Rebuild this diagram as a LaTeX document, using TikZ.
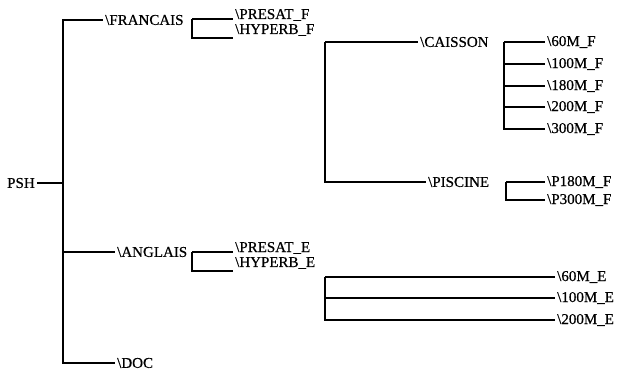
\documentclass[tikz,border=0pt]{standalone}
\usepackage{fontspec}
\setmainfont[FakeBold=0.6]{Liberation Serif}
\usepackage{tikz}
\usetikzlibrary{positioning}

\begin{document}
\begin{tikzpicture}[
    x=1pt, y=-1pt,
    font=\fontsize{15}{15}\selectfont,
    dir/.style={anchor=west, inner sep=2pt},
    branch/.style={line width=2pt, line join=miter}
]
\useasboundingbox (0,0) rectangle (622,372);

% Root
\node[dir] (psh) at (5,183) {PSH};
\coordinate (trunk) at (63,183);

% First level
\node[dir] (francais) at (103,20) {\textbackslash FRANCAIS};
\node[dir] (anglais) at (115,252) {\textbackslash ANGLAIS};
\node[dir] (doc) at (115,363) {\textbackslash DOC};

% Second level
\node[dir] (presatF) at (233,15) {\textbackslash PRESAT\_F};
\node[dir] (hyperbF) at (233,30) {\textbackslash HYPERB\_F};
\node[dir] (presatE) at (233,248) {\textbackslash PRESAT\_E};
\node[dir] (hyperbE) at (233,263) {\textbackslash HYPERB\_E};
\coordinate (fr) at (192,19);
\coordinate (an) at (192,252);

% Third level
\coordinate (hf) at (325,42);
\node[dir] (caisson) at (418,42) {\textbackslash CAISSON};
\node[dir] (piscine) at (426,182) {\textbackslash PISCINE};
\coordinate (he) at (325,277);

% Leaves
\coordinate (ca) at (504,42);
\coordinate (pi) at (506,182);
\foreach \lbl/\yy [count=\i from 0] in {60M/42, 100M/64, 180M/86, 200M/107, 300M/129}
    \node[dir] (cf\i) at (545,\yy) {\textbackslash\lbl\_F};
\node[dir] (pf0) at (545,182) {\textbackslash P180M\_F};
\node[dir] (pf1) at (545,200) {\textbackslash P300M\_F};
\foreach \lbl/\yy [count=\i from 0] in {60M/277, 100M/298, 200M/320}
    \node[dir] (ce\i) at (555,\yy) {\textbackslash\lbl\_E};

% Connectors
\draw[branch] (psh.east) -- (trunk);
\foreach \n in {francais, anglais, doc}
    \draw[branch] (trunk) |- (\n.west);
\draw[branch] (fr) -- (fr -| presatF.west);
\draw[branch] (fr) |- (hyperbF.south west);
\draw[branch] (an) -- (an -| presatE.west);
\draw[branch] (an) |- (hyperbE.south west);
\foreach \n in {caisson, piscine}
    \draw[branch] (hf) |- (\n.west);
\foreach \i in {0,...,4}
    \draw[branch] (ca) |- (cf\i.west);
\foreach \i in {0,1}
    \draw[branch] (pi) |- (pf\i.west);
\foreach \i in {0,1,2}
    \draw[branch] (he) |- (ce\i.west);

\end{tikzpicture}
\end{document}
